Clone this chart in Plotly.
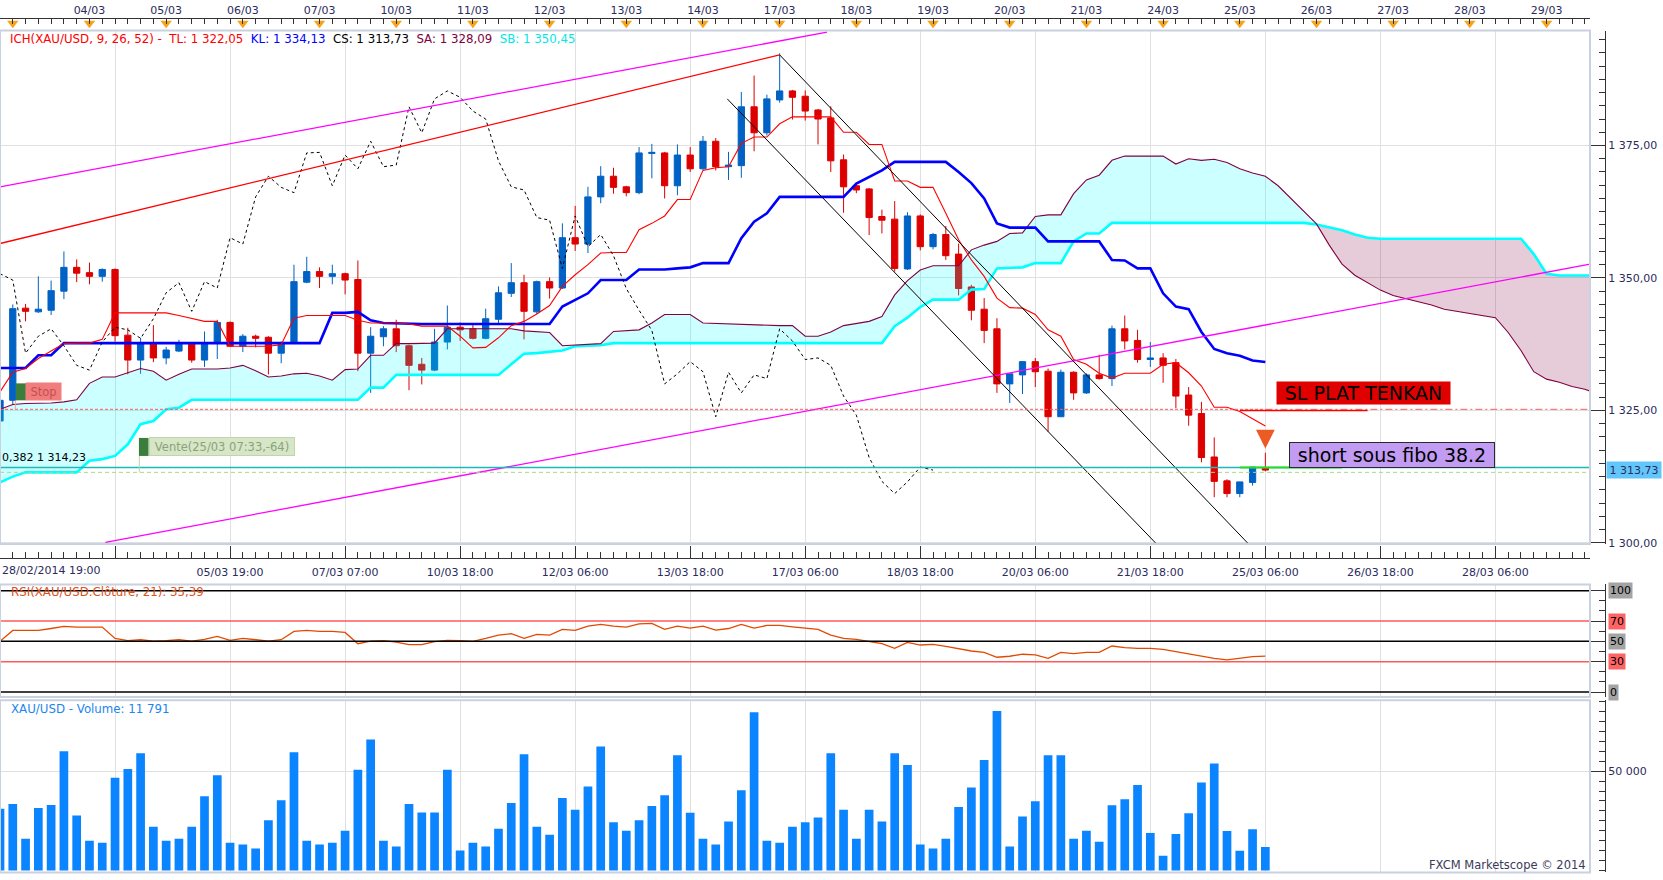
import plotly.graph_objects as go

# XAU/USD 4h bars, 28/02/2014 19:00 -> 25/03/2014 (bar index 0..99)
opens = [1323.0, 1326.9, 1344.3, 1343.6, 1343.9, 1347.5, 1352.0, 1351.0, 1350.3, 1351.6,
         1339.2, 1334.5, 1337.5, 1334.9, 1336.2, 1337.5, 1334.5, 1337.7, 1341.6, 1337.1,
         1339.0, 1338.8, 1335.8, 1337.7, 1349.2, 1351.2, 1350.3, 1350.8, 1349.7, 1335.8,
         1338.9, 1340.4, 1337.2, 1333.7, 1332.6, 1337.9, 1340.7, 1340.4, 1338.6, 1342.2,
         1347.1, 1349.1, 1343.6, 1349.3, 1348.1, 1357.6, 1356.4, 1365.3, 1369.2, 1367.2,
         1366.1, 1373.5, 1373.6, 1367.4, 1373.2, 1370.6, 1375.8, 1371.0, 1371.2, 1382.3,
         1377.4, 1383.6, 1385.3, 1384.3, 1381.7, 1380.2, 1372.3, 1367.4, 1366.8, 1361.6,
         1361.1, 1351.7, 1361.7, 1355.9, 1358.2, 1354.5, 1348.3, 1344.1, 1340.4, 1330.0,
         1331.7, 1334.2, 1332.4, 1323.8, 1332.2, 1328.3, 1331.7, 1331.0, 1340.4, 1338.2,
         1334.6, 1334.9, 1334.0, 1327.9, 1324.4, 1316.2, 1311.7, 1309.3, 1311.4, 1314.2]
highs = [1328.0, 1345.0, 1345.1, 1350.3, 1349.5, 1355.0, 1353.5, 1352.9, 1351.8, 1351.8,
         1340.6, 1338.7, 1341.1, 1337.0, 1338.3, 1337.7, 1339.9, 1342.1, 1341.8, 1339.4,
         1339.3, 1339.0, 1338.0, 1352.5, 1354.0, 1352.0, 1352.5, 1351.0, 1353.3, 1340.7,
         1340.9, 1342.1, 1337.4, 1334.9, 1340.4, 1344.8, 1341.6, 1341.2, 1344.2, 1348.4,
         1352.8, 1350.6, 1349.5, 1350.1, 1360.3, 1363.6, 1367.2, 1371.1, 1370.8, 1367.4,
         1374.7, 1375.3, 1373.8, 1375.2, 1374.7, 1376.8, 1376.4, 1373.8, 1385.1, 1388.2,
         1384.6, 1392.4, 1385.5, 1385.4, 1381.9, 1382.4, 1373.3, 1367.6, 1367.0, 1362.9,
         1364.5, 1362.4, 1362.0, 1358.5, 1359.8, 1356.5, 1348.7, 1346.2, 1342.4, 1331.9,
         1334.3, 1334.9, 1332.9, 1332.7, 1332.4, 1332.0, 1335.5, 1341.0, 1342.9, 1340.2,
         1337.9, 1335.8, 1334.7, 1329.4, 1326.6, 1319.9, 1312.0, 1311.5, 1314.3, 1317.0]
lows = [1321.0, 1326.0, 1341.8, 1343.4, 1343.0, 1346.0, 1349.2, 1348.8, 1349.3, 1338.0,
        1331.8, 1331.9, 1334.1, 1333.7, 1336.0, 1334.0, 1333.2, 1334.7, 1337.0, 1336.0,
        1336.9, 1331.8, 1333.9, 1337.5, 1349.0, 1348.1, 1348.8, 1346.9, 1332.4, 1328.3,
        1337.1, 1336.0, 1328.8, 1329.9, 1332.4, 1336.5, 1338.1, 1338.4, 1338.4, 1341.2,
        1346.4, 1338.4, 1343.2, 1346.1, 1347.9, 1355.1, 1354.7, 1364.1, 1365.9, 1365.4,
        1365.8, 1368.8, 1365.0, 1365.6, 1370.0, 1370.4, 1370.3, 1368.5, 1368.9, 1373.9,
        1376.9, 1383.1, 1379.9, 1379.7, 1375.2, 1370.0, 1362.3, 1366.0, 1358.1, 1358.4,
        1351.2, 1351.5, 1355.2, 1355.4, 1353.4, 1346.7, 1342.0, 1337.7, 1328.3, 1326.4,
        1328.1, 1329.4, 1321.0, 1323.8, 1327.0, 1328.1, 1330.8, 1329.6, 1336.5, 1334.0,
        1333.2, 1330.2, 1325.4, 1322.1, 1315.2, 1308.6, 1308.6, 1308.6, 1310.8, 1313.5]
closes = [1326.9, 1344.2, 1343.7, 1344.1, 1347.6, 1352.0, 1350.9, 1350.3, 1351.6, 1339.1,
          1334.5, 1337.7, 1334.9, 1336.4, 1337.5, 1334.5, 1337.5, 1341.6, 1337.1, 1339.0,
          1338.6, 1335.8, 1337.5, 1349.3, 1351.2, 1350.3, 1350.8, 1349.6, 1335.8, 1339.0,
          1340.4, 1337.2, 1333.5, 1332.6, 1337.9, 1340.7, 1340.2, 1338.6, 1342.3, 1347.2,
          1349.1, 1343.7, 1349.3, 1348.1, 1357.6, 1356.4, 1365.3, 1369.2, 1367.1, 1366.1,
          1373.6, 1373.7, 1367.4, 1373.2, 1370.6, 1375.8, 1371.0, 1371.3, 1382.3, 1377.4,
          1383.8, 1385.3, 1384.1, 1381.5, 1380.0, 1372.1, 1367.2, 1366.6, 1361.4, 1360.9,
          1351.8, 1361.7, 1355.9, 1358.2, 1354.2, 1348.0, 1343.9, 1340.1, 1330.0, 1331.9,
          1334.2, 1332.3, 1323.8, 1332.2, 1328.3, 1331.7, 1331.0, 1340.4, 1338.1, 1334.6,
          1334.9, 1333.5, 1327.7, 1324.1, 1316.1, 1311.6, 1309.3, 1311.5, 1314.3, 1313.73]
volume = [31000, 33500, 16000, 31500, 33000, 60000, 27600, 15000, 14000, 46700,
          51100, 59000, 22000, 15000, 16000, 22000, 37400, 47900, 14000, 13000,
          11000, 25300, 35400, 59500, 15000, 13000, 14000, 20000, 50700, 65900,
          15000, 12000, 33500, 29200, 29200, 50700, 10000, 14000, 12000, 21000,
          34000, 58500, 22000, 18000, 36500, 30500, 42300, 62400, 24300, 20000,
          25300, 32500, 37900, 58000, 29000, 16000, 13000, 24600, 40400, 79600,
          15000, 14000, 22000, 24300, 26600, 59000, 30500, 16000, 30500, 24600,
          59000, 53100, 13000, 11000, 16000, 32000, 41800, 55600, 80300, 12000,
          27100, 34900, 58000, 58000, 16000, 20000, 14500, 32800, 35800, 43000,
          18800, 7400, 18300, 28800, 44300, 53900, 19800, 9900, 20800, 11791]
rsi = [50.0, 60.8, 60.8, 60.8, 62.7, 64.7, 64.1, 64.1, 64.1, 52.9,
       50.7, 51.6, 50.3, 50.7, 51.6, 50.3, 52.0, 54.9, 51.0, 53.0,
       52.0, 50.3, 51.6, 59.8, 60.8, 59.8, 59.8, 58.8, 47.7, 50.3,
       50.7, 49.3, 46.7, 46.7, 49.7, 51.0, 50.7, 50.0, 52.9, 56.2,
       57.5, 52.9, 56.9, 56.2, 61.8, 60.8, 65.0, 66.7, 65.0, 64.1,
       67.3, 67.7, 61.8, 65.0, 63.1, 65.0, 61.1, 62.7, 66.7, 63.1,
       65.7, 65.7, 64.4, 63.1, 61.8, 56.2, 52.9, 52.0, 49.7, 47.7,
       43.1, 49.0, 46.4, 47.1, 45.1, 42.5, 40.5, 39.2, 34.3, 35.3,
       37.3, 36.6, 33.3, 39.2, 37.9, 39.2, 39.2, 45.4, 43.8, 43.1,
       43.1, 42.2, 39.9, 38.2, 36.0, 33.3, 31.7, 33.3, 35.0, 35.39]

# Ichimoku (9, 26, 52) lines
tenkan = [1328.5, 1332.2, 1332.9, 1334.8, 1336.2, 1337.6, 1337.7, 1337.7, 1338.4, 1343.4,
          1343.4, 1343.4, 1343.4, 1343.4, 1342.9, 1342.3, 1341.8, 1341.8, 1337.1, 1337.1,
          1337.1, 1337.1, 1337.4, 1342.4, 1342.9, 1342.9, 1342.9, 1342.9, 1342.0, 1341.5,
          1341.5, 1341.5, 1341.3, 1340.9, 1340.9, 1340.9, 1339.0, 1336.8, 1336.9, 1338.7,
          1341.0, 1341.8, 1343.2, 1344.8, 1348.4, 1350.6, 1352.5, 1354.7, 1354.8, 1354.8,
          1359.1, 1360.3, 1361.7, 1364.8, 1364.8, 1370.3, 1370.8, 1371.0, 1375.4, 1376.6,
          1376.6, 1379.1, 1380.4, 1380.4, 1380.4, 1380.4, 1377.5, 1377.5, 1375.2, 1375.2,
          1368.3, 1368.3, 1367.1, 1367.1, 1362.2, 1357.2, 1353.4, 1350.3, 1346.2, 1344.4,
          1344.3, 1343.1, 1340.2, 1339.0, 1334.6, 1333.7, 1332.0, 1331.1, 1332.0, 1332.0,
          1332.0, 1333.7, 1334.0, 1332.1, 1329.6, 1325.6, 1325.6, 1324.8, 1323.5, 1322.05]
kijun = [1333.0, 1333.0, 1333.0, 1335.4, 1335.4, 1337.7, 1337.7, 1337.7, 1337.7, 1337.7,
         1337.7, 1337.7, 1337.7, 1337.7, 1337.7, 1337.7, 1337.7, 1337.7, 1337.7, 1337.7,
         1337.7, 1337.7, 1337.7, 1337.7, 1337.7, 1337.7, 1343.4, 1343.4, 1343.6, 1342.0,
         1341.5, 1341.4, 1341.3, 1341.3, 1341.3, 1341.3, 1341.3, 1341.3, 1341.3, 1341.3,
         1341.3, 1341.3, 1341.3, 1341.3, 1344.6, 1345.9, 1347.1, 1349.6, 1349.6, 1349.6,
         1351.6, 1351.6, 1351.6, 1351.8, 1352.0, 1352.8, 1352.8, 1352.8, 1357.5, 1360.6,
         1362.2, 1365.3, 1365.3, 1365.3, 1365.3, 1365.3, 1365.3, 1367.8, 1369.1, 1370.3,
         1371.9, 1371.9, 1371.9, 1371.9, 1371.9, 1370.0, 1367.9, 1365.0, 1360.3, 1359.5,
         1359.5, 1359.5, 1356.9, 1356.9, 1356.9, 1356.9, 1356.9, 1353.4, 1353.3, 1351.8,
         1351.8, 1347.1, 1344.6, 1344.1, 1339.8, 1336.6, 1335.8, 1335.3, 1334.4, 1334.13]
senkou_a = [1325.2, 1326.1, 1326.3, 1326.3, 1326.4, 1326.6, 1327.0, 1330.1, 1331.3, 1331.3,
            1332.1, 1332.9, 1332.4, 1330.7, 1331.8, 1332.8, 1332.8, 1332.8, 1333.0, 1333.5,
            1332.5, 1331.3, 1331.5, 1331.9, 1332.0, 1331.5, 1330.7, 1332.7, 1332.8, 1335.4,
            1335.4, 1337.6, 1337.6, 1337.6, 1337.7, 1340.4, 1340.4, 1340.4, 1340.4, 1340.4,
            1340.4, 1340.0, 1339.8, 1339.7, 1337.2, 1337.3, 1337.5, 1337.6, 1339.9, 1340.0,
            1340.2, 1341.5, 1343.1, 1343.1, 1343.1, 1341.5, 1341.4, 1341.3, 1341.2, 1341.1,
            1341.0, 1341.0, 1341.0, 1339.0, 1339.0, 1339.8, 1341.0, 1341.4, 1341.8, 1342.7,
            1346.8, 1349.5, 1351.5, 1352.3, 1352.3, 1352.3, 1355.3, 1356.2, 1356.9, 1358.4,
            1358.5, 1361.6, 1361.9, 1361.9, 1365.9, 1368.5, 1369.4, 1372.2, 1373.0, 1373.0,
            1373.0, 1373.0, 1371.5, 1372.5, 1372.2, 1372.4, 1371.8, 1370.6, 1369.8, 1369.2,
            1367.4, 1365.0, 1362.6, 1360.2, 1356.2, 1352.6, 1350.5, 1349.1, 1347.7, 1346.7,
            1346.1, 1345.5, 1344.9, 1344.1, 1343.7, 1343.3, 1342.9, 1342.5, 1339.7, 1336.3,
            1332.3, 1330.9, 1330.3, 1329.5, 1329.0, 1328.09]
senkou_b = [1311.4, 1312.5, 1313.3, 1313.3, 1313.3, 1313.3, 1313.3, 1315.5, 1315.8, 1316.4,
            1318.6, 1322.4, 1323.0, 1325.2, 1325.5, 1327.0, 1327.0, 1327.0, 1327.0, 1327.0,
            1327.0, 1327.0, 1327.0, 1327.0, 1327.0, 1327.0, 1327.0, 1327.0, 1327.0, 1329.3,
            1329.3, 1331.7, 1331.7, 1331.7, 1331.7, 1331.7, 1331.7, 1331.7, 1331.7, 1331.7,
            1333.7, 1335.7, 1335.8, 1336.0, 1336.3, 1337.1, 1337.2, 1337.3, 1337.7, 1337.7,
            1337.7, 1337.7, 1337.7, 1337.7, 1337.7, 1337.7, 1337.7, 1337.7, 1337.7, 1337.7,
            1337.7, 1337.7, 1337.7, 1337.7, 1337.7, 1337.7, 1337.7, 1337.7, 1337.7, 1337.7,
            1340.9, 1342.5, 1344.5, 1345.9, 1345.9, 1345.9, 1347.8, 1347.9, 1351.8, 1351.9,
            1352.0, 1352.8, 1352.8, 1352.8, 1356.9, 1358.4, 1358.4, 1360.4, 1360.4, 1360.4,
            1360.4, 1360.4, 1360.4, 1360.4, 1360.4, 1360.4, 1360.4, 1360.4, 1360.4, 1360.4,
            1360.4, 1360.4, 1360.4, 1360.1, 1359.6, 1359.0, 1358.2, 1357.6, 1357.4, 1357.4,
            1357.4, 1357.4, 1357.4, 1357.4, 1357.4, 1357.4, 1357.4, 1357.4, 1357.4, 1357.4,
            1354.5, 1350.8, 1350.45, 1350.45, 1350.45, 1350.45]
CHIKOU_SHIFT = 26

# drawn objects (bar index, price)
magenta_top_x, magenta_top_y = [0, 64.7], [1367.2, 1396.4]
magenta_low_x, magenta_low_y = [8.25, 124.4], [1300.1, 1352.6]
red_trend_x, red_trend_y = [0, 61], [1356.5, 1392.1]
chan_up_x, chan_up_y = [61, 97.6], [1392.1, 1300.0]
chan_dn_x, chan_dn_y = [56.9, 90.4], [1383.8, 1300.0]
STOP_LEVEL = 1325.2
SL_TENKAN = 1325.0
FIB_382 = 1314.23
BID_LINE = 1313.3
SIGNAL_PRICE = 1317.8

# axis labels
DAY_IDX = [1 + 6 * k for k in range(21)]
DAY_LABELS = ["", "04/03", "05/03", "06/03", "07/03", "10/03", "11/03", "12/03", "13/03",
              "14/03", "17/03", "18/03", "19/03", "20/03", "21/03", "24/03", "25/03",
              "26/03", "27/03", "28/03", "29/03"]
TIME_IDX = [9 * k for k in range(1, 14)]
TIME_LABELS = ["", "05/03 19:00", "07/03 07:00", "10/03 18:00", "12/03 06:00", "13/03 18:00",
               "17/03 06:00", "18/03 18:00", "20/03 06:00", "21/03 18:00", "25/03 06:00",
               "26/03 18:00", "28/03 06:00"]
PRICE_TICKS = [1300, 1325, 1350, 1375]


def fmt(v):
    return f"{v:,.2f}".replace(",", " ").replace(".", ",")


def py(v):
    # vertical position measured on the 830 px tall reference -> paper fraction
    return 1 - v / 830.0


bars = list(range(len(closes)))
cloud_x = list(range(len(senkou_a)))
XR = [0, 124.4]
XD = [0, 0.9561]
AXPOS = 1605 / 1663
NAVY = "#2b2b5c"
GRID = "#e0e0e0"

fig = go.Figure()

fig.add_trace(go.Candlestick(
    x=bars, open=opens, high=highs, low=lows, close=closes,
    increasing=dict(line=dict(color="#0062c4", width=1), fillcolor="#0062c4"),
    decreasing=dict(line=dict(color="#dc0000", width=1), fillcolor="#dc0000"),
    whiskerwidth=0, hoverinfo="skip"))

# kumo: split where senkou A / B swap
bull = [a >= b for a, b in zip(senkou_a, senkou_b)]
segments = []
s = 0
for i in range(1, len(bull)):
    if bull[i] != bull[i - 1]:
        segments.append((s, i - 1, bull[i - 1]))
        s = i - 1
segments.append((s, len(bull) - 1, bull[-1]))
for a0, a1, up in segments:
    xs = cloud_x[a0:a1 + 1]
    n = len(xs)
    fig.add_trace(go.Scatter(x=xs, y=senkou_b[a0:a0 + n], mode="lines",
                             line=dict(width=0), hoverinfo="skip"))
    fig.add_trace(go.Scatter(x=xs, y=senkou_a[a0:a0 + n], mode="lines",
                             line=dict(width=0), fill="tonexty", hoverinfo="skip",
                             fillcolor="rgba(0,255,255,0.2)" if up else "rgba(128,0,64,0.2)"))

fig.add_trace(go.Scatter(x=cloud_x, y=senkou_b, mode="lines", line=dict(color="#00ffff", width=2.6)))
fig.add_trace(go.Scatter(x=cloud_x, y=senkou_a, mode="lines", line=dict(color="#800040", width=1.1)))
fig.add_trace(go.Scatter(x=bars, y=kijun, mode="lines", line=dict(color="#0000ff", width=2.6)))
fig.add_trace(go.Scatter(x=bars, y=tenkan, mode="lines", line=dict(color="#ff0000", width=1.1)))
fig.add_trace(go.Scatter(x=bars[:-CHIKOU_SHIFT], y=closes[CHIKOU_SHIFT:], mode="lines",
                         line=dict(color="#000000", width=1, dash="3px,3px")))

for xs, ys, col, w in [(magenta_top_x, magenta_top_y, "#ff00ff", 1.3),
                       (magenta_low_x, magenta_low_y, "#ff00ff", 1.3),
                       (red_trend_x, red_trend_y, "#ff0000", 1.3),
                       (chan_up_x, chan_up_y, "#000000", 1),
                       (chan_dn_x, chan_dn_y, "#000000", 1)]:
    fig.add_trace(go.Scatter(x=xs, y=ys, mode="lines", line=dict(color=col, width=w)))

# RSI panel
fig.add_trace(go.Scatter(x=bars, y=rsi, mode="lines", xaxis="x2", yaxis="y2",
                         line=dict(color="#e24a00", width=1.3)))
# volume panel
fig.add_trace(go.Bar(x=bars, y=volume, xaxis="x3", yaxis="y3", width=0.68,
                     marker=dict(color="#0a84ff", line=dict(width=0))))
# day markers in the top strip
fig.add_trace(go.Scatter(x=DAY_IDX, y=[0.62] * len(DAY_IDX), mode="markers", xaxis="x4", yaxis="y4",
                         marker=dict(symbol="triangle-down", size=10, color="#f8a31c")))

font_ax = dict(family="DejaVu Sans", size=11, color=NAVY)
shapes = []
# horizontal levels
shapes.append(dict(type="line", xref="x", yref="y", x0=XR[0], x1=99, y0=STOP_LEVEL, y1=STOP_LEVEL,
                   line=dict(color="#ff5a5a", width=1, dash="3px,2px")))
shapes.append(dict(type="line", xref="x", yref="y", x0=99, x1=XR[1], y0=STOP_LEVEL, y1=STOP_LEVEL,
                   line=dict(color="#ff5a5a", width=1, dash="7px,3px,2px,3px")))
shapes.append(dict(type="line", xref="x", yref="y", x0=97, x1=107, y0=SL_TENKAN, y1=SL_TENKAN,
                   line=dict(color="#ff0000", width=1.5)))
shapes.append(dict(type="line", xref="x", yref="y", x0=XR[0], x1=XR[1], y0=FIB_382, y1=FIB_382,
                   line=dict(color="#1fb8b8", width=1.5)))
shapes.append(dict(type="line", xref="x", yref="y", x0=XR[0], x1=XR[1], y0=BID_LINE, y1=BID_LINE,
                   line=dict(color="#a8d888", width=1, dash="4px,3px")))
shapes.append(dict(type="line", xref="x", yref="y", x0=97, x1=105, y0=FIB_382, y1=FIB_382,
                   line=dict(color="#22dd22", width=2)))
# order labels: green squares + connectors
shapes.append(dict(type="rect", xref="x", yref="y", x0=1.245, x1=2.03, y0=1326.9, y1=1330.1,
                   fillcolor="#3b7d3b", line=dict(width=0)))
shapes.append(dict(type="line", xref="x", yref="y", x0=1.2, x1=1.2, y0=1326.9, y1=STOP_LEVEL,
                   line=dict(color="#f4a0a0", width=1)))
shapes.append(dict(type="rect", xref="x", yref="y", x0=10.87, x1=11.62, y0=1316.4, y1=1319.8,
                   fillcolor="#3b7d3b", line=dict(width=0)))
shapes.append(dict(type="line", xref="x", yref="y", x0=10.9, x1=10.9, y0=1316.4, y1=BID_LINE,
                   line=dict(color="#b8d8a0", width=1)))
# RSI levels
for lv, col in [(100, "#000000"), (70, "#ff5a5a"), (50, "#000000"), (30, "#ff5a5a"), (0, "#000000")]:
    shapes.append(dict(type="line", xref="x2", yref="y2", x0=XR[0], x1=XR[1], y0=lv, y1=lv,
                       line=dict(color=col, width=1.5)))
# panel frames
for y0, y1 in [(516.5, 29), (662, 555), (828.5, 665)]:
    shapes.append(dict(type="rect", xref="paper", yref="paper", x0=0, x1=XD[1], y0=py(y0), y1=py(y1),
                       line=dict(color="#c9d2de", width=2), layer="above"))

legend_txt = ("<span style='color:#ff0000'>ICH(XAU/USD, 9, 26, 52) -&nbsp; TL: " + fmt(tenkan[-1]) + "</span>&nbsp; "
              "<span style='color:#0000ff'>KL: " + fmt(kijun[-1]) + "</span>&nbsp; "
              "<span style='color:#000000'>CS: " + fmt(closes[-1]) + "</span>&nbsp; "
              "<span style='color:#800040'>SA: " + fmt(senkou_a[-1]) + "</span>&nbsp; "
              "<span style='color:#00e8e8'>SB: " + fmt(senkou_b[-1]) + "</span>")

ann = [
    dict(xref="paper", yref="paper", x=7.5 / 1663, y=py(37), xanchor="left", yanchor="middle",
         text=legend_txt, showarrow=False, font=dict(family="DejaVu Sans", size=11.8)),
    dict(xref="x", yref="paper", x=0, y=py(542), xanchor="left", yanchor="middle",
         text="28/02/2014 19:00", showarrow=False, font=font_ax),
    dict(xref="x", yref="y", x=3.4, y=1328.5, text="Stop", showarrow=False, width=35, height=17,
         bgcolor="#f27d7d", borderpad=0, font=dict(family="DejaVu Sans", size=11.5, color="#c45050")),
    dict(xref="x", yref="y", x=17.35, y=1318.1, text="Vente(25/03 07:33,-64)", showarrow=False,
         width=144, height=17, bgcolor="#d6e6c6", bordercolor="#c0d4ae", borderwidth=1, borderpad=0,
         font=dict(family="DejaVu Sans", size=11.5, color="#8aa27c")),
    dict(xref="x", yref="y", x=0, y=FIB_382, xanchor="left", yanchor="bottom", yshift=1,
         text="0,382 " + fmt(FIB_382), showarrow=False, font=dict(family="DejaVu Sans", size=11, color="#000")),
    dict(xref="x", yref="y", x=106.7, y=1328.2, text="SL PLAT TENKAN", showarrow=False,
         width=173, height=22, bgcolor="#e00000", borderpad=0,
         font=dict(family="DejaVu Sans", size=19, color="#000000")),
    dict(xref="x", yref="y", x=108.9, y=1316.6, text="short sous fibo 38.2", showarrow=False,
         width=204, height=24, bgcolor="#c19cf2", bordercolor="#2a2a2a", borderwidth=1, borderpad=0,
         font=dict(family="DejaVu Sans", size=19, color="#000000")),
    # sell signal arrow above the last bar
    dict(xref="x", yref="y", x=bars[-1], y=SIGNAL_PRICE, text="", showarrow=True, ax=0, ay=-14,
         arrowhead=2, arrowsize=0.75, arrowwidth=5, arrowcolor="#ee5a24"),
    dict(xref="paper", yref="y", x=1606 / 1663, y=closes[-1], xanchor="left", text=fmt(closes[-1]),
         showarrow=False, width=54, height=16, bgcolor="#63c6fb", borderpad=0,
         font=dict(family="DejaVu Sans", size=11, color=NAVY)),
    dict(xref="paper", yref="paper", x=8.5 / 1663, y=py(562.5), xanchor="left", yanchor="middle",
         text="RSI(XAU/USD.Clôture, 21): " + fmt(rsi[-1]), showarrow=False,
         font=dict(family="DejaVu Sans", size=11.8, color="#e0501a")),
    dict(xref="paper", yref="paper", x=8.5 / 1663, y=py(673), xanchor="left", yanchor="middle",
         text="XAU/USD - Volume: " + f"{volume[-1]:,}".replace(",", " "), showarrow=False,
         font=dict(family="DejaVu Sans", size=11.8, color="#1c86ee")),
    dict(xref="paper", yref="paper", x=1588 / 1663, y=py(821), xanchor="right", yanchor="middle",
         text="FXCM Marketscope © 2014", showarrow=False,
         font=dict(family="DejaVu Sans", size=11.5, color="#3a3a5a")),
]
for lv, bg in [(100, "#a4a4a4"), (70, "#ff6464"), (50, "#a4a4a4"), (30, "#ff6464"), (0, "#a4a4a4")]:
    ann.append(dict(xref="paper", yref="y2", x=1608 / 1663, y=lv, xanchor="left", yanchor="middle",
                    text=str(lv), showarrow=False, bgcolor=bg, borderpad=1,
                    font=dict(family="DejaVu Sans", size=11, color="#000000")))

hidden_x = dict(matches="x", range=XR, domain=XD, tickvals=TIME_IDX, showticklabels=False, ticks="",
                showgrid=True, gridcolor=GRID, zeroline=False, showline=False)

fig.update_layout(
    width=1663, height=880, margin=dict(l=0, r=0, t=0, b=0),
    paper_bgcolor="white", plot_bgcolor="white", showlegend=False,
    font=dict(family="DejaVu Sans", size=11, color=NAVY),
    hovermode=False,
    xaxis=dict(range=XR, domain=XD, anchor="free", position=py(530), side="bottom",
               tickvals=TIME_IDX, ticktext=TIME_LABELS, ticks="inside", ticklen=12, tickcolor="#333333",
               showline=True, linecolor="#333333", linewidth=1, tickfont=font_ax, ticklabelstandoff=4,
               showgrid=True, gridcolor=GRID, zeroline=False, rangeslider=dict(visible=False),
               minor=dict(dtick=1, tick0=0, ticks="inside", ticklen=6, tickcolor="#333333", showgrid=False)),
    yaxis=dict(domain=[py(516.5), py(29)], range=[1299.8, 1396.7], anchor="free", position=AXPOS,
               side="right", tickvals=PRICE_TICKS, ticktext=[fmt(v) for v in PRICE_TICKS],
               ticks="inside", ticklen=15, tickcolor="#333333", showline=True, linecolor="#333333",
               tickfont=font_ax, showgrid=True, gridcolor=GRID, zeroline=False,
               minor=dict(dtick=2.5, tick0=1300, ticks="inside", ticklen=6, tickcolor="#333333", showgrid=False)),
    xaxis2=dict(anchor="y2", **hidden_x),
    yaxis2=dict(domain=[py(662), py(555)], range=[-5.0, 106.2], anchor="free", position=AXPOS,
                side="right", tickvals=[0, 30, 50, 70, 100], showticklabels=False, ticks="inside",
                ticklen=15, tickcolor="#333333", showline=True, linecolor="#333333", showgrid=False,
                zeroline=False,
                minor=dict(dtick=10, tick0=0, ticks="inside", ticklen=6, tickcolor="#333333")),
    xaxis3=dict(anchor="y3", **hidden_x),
    yaxis3=dict(domain=[py(828.5), py(665)], range=[-1000, 85700], anchor="free", position=AXPOS,
                side="right", tickvals=[50000], ticktext=["50 000"], ticks="inside", ticklen=15,
                tickcolor="#333333", showline=True, linecolor="#333333", tickfont=font_ax,
                showgrid=True, gridcolor=GRID, zeroline=False,
                minor=dict(dtick=5000, tick0=0, ticks="inside", ticklen=6, tickcolor="#333333", showgrid=False)),
    xaxis4=dict(matches="x", anchor="y4", range=XR, domain=XD, side="top", tickvals=DAY_IDX,
                ticktext=DAY_LABELS, ticks="inside", ticklen=5, tickcolor="#333333", showline=True,
                linecolor="#333333", tickfont=font_ax, showgrid=False, zeroline=False,
                minor=dict(dtick=1, tick0=0, ticks="inside", ticklen=5, tickcolor="#333333")),
    yaxis4=dict(domain=[py(29), py(18)], range=[0, 1], visible=False),
    shapes=shapes, annotations=ann,
)

fig.write_html("out.html", config={"displayModeBar": False},
               post_script="document.body.style.margin='0';document.body.style.overflow='hidden';")
